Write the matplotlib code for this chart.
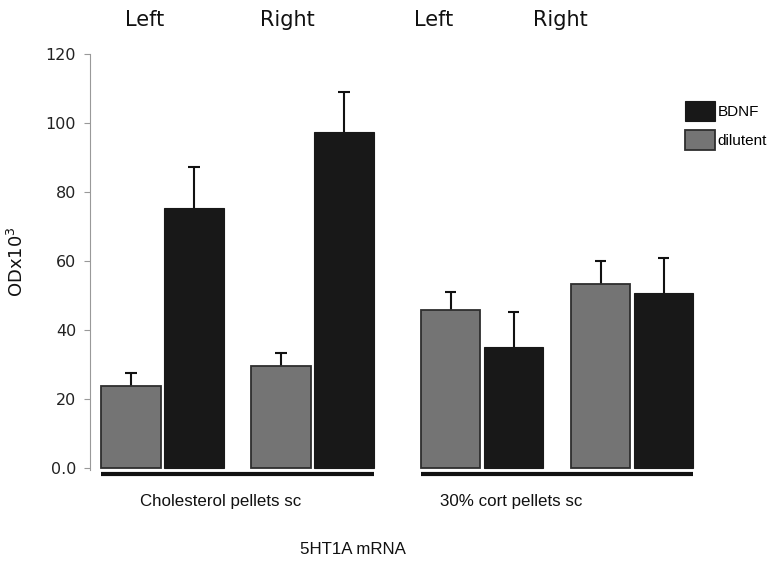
import numpy as np
import matplotlib
matplotlib.use("Agg")
import matplotlib.pyplot as plt

# ---- data ----
sides = ["Left", "Right", "Left", "Right"]
groups = ["Cholesterol pellets sc", "30% cort pellets sc"]
dilutent = [23.8, 29.6, 45.8, 53.4]
dilutent_err = [3.7, 3.7, 5.2, 6.5]
bdnf = [75.4, 97.4, 35.1, 50.8]
bdnf_err = [11.8, 11.5, 10.1, 10.1]
yticks = [0, 20, 40, 60, 80, 100, 120]
yticklabels = ["0.0", "20", "40", "60", "80", "100", "120"]

W, H = 775, 566
fig = plt.figure(figsize=(W / 100, H / 100), dpi=100)

def fx(px):
    return px / W

def fy(py):
    return 1 - py / H

ax_left, ax_right, ax_top, ax_bot = 90, 720, 54, 470
ax = fig.add_axes([fx(ax_left), fy(ax_bot), fx(ax_right - ax_left), (ax_bot - ax_top) / H])

gap = 0.13
pair_x = np.arange(4) + gap * np.array([0, 0, 1, 1])
width = 0.395
off = 0.21
cap_half = 0.038

dil_col = "#747474"
bdnf_col = "#181818"

ax.bar(pair_x - off, dilutent, width=width, color=dil_col, edgecolor="#2e2e2e",
       linewidth=1.3, label="dilutent", zorder=2)
ax.bar(pair_x + off, bdnf, width=width, color=bdnf_col, edgecolor=bdnf_col,
       linewidth=0.8, label="BDNF", zorder=2)

for xs, vals, errs in [(pair_x - off, dilutent, dilutent_err),
                       (pair_x + off, bdnf, bdnf_err)]:
    vals = np.asarray(vals)
    tops = vals + np.asarray(errs)
    ax.vlines(xs, vals, tops, color="#111111", lw=1.5, zorder=1)
    ax.hlines(tops, xs - cap_half, xs + cap_half, color="#111111", lw=1.5, zorder=1)

px_per_unit = 150.0
x0_px = 162.5
ax.set_xlim(-(x0_px - ax_left) / px_per_unit, (ax_right - x0_px) / px_per_unit)
ax.set_ylim(-0.6, 120)

for s in ["top", "right", "bottom"]:
    ax.spines[s].set_visible(False)
ax.spines["left"].set_color("#999999")
ax.spines["left"].set_linewidth(0.8)
ax.set_xticks([])
ax.set_yticks(yticks)
ax.set_yticklabels(yticklabels)
ax.tick_params(axis="y", direction="out", length=4, color="#999999",
               labelsize=11.5, labelcolor="#222222", pad=6)

# group underlines
for g in range(2):
    xs = [pair_x[2 * g] - off - width / 2, pair_x[2 * g + 1] + off + width / 2]
    ax.plot(xs, [-1.9, -1.9], color="#111111", lw=3, clip_on=False,
            solid_capstyle="butt")

# side labels at top
side_dx = [-0.12, -0.165, -0.32, -0.48]
for i, s in enumerate(sides):
    ax.text(pair_x[i] + side_dx[i], 1 - (26 - ax_top) / (ax_bot - ax_top), s,
            transform=ax.get_xaxis_transform(), ha="center", va="baseline",
            fontsize=15, color="#111111", family="DejaVu Sans")

# group labels
fig.text(fx(220.5), fy(506), groups[0], ha="center", va="baseline",
         fontsize=12.2, family="Liberation Sans", color="#111111")
fig.text(fx(511), fy(506), groups[1], ha="center", va="baseline",
         fontsize=12.2, family="Liberation Sans", color="#111111")
fig.text(fx(352.5), fy(554), "5HT1A mRNA", ha="center", va="baseline",
         fontsize=12.2, family="Liberation Sans", color="#111111")

fig.text(fx(17), fy(262), "ODx10$^3$", rotation=90, ha="center", va="center",
         fontsize=13, family="DejaVu Sans", color="#111111")

handles, labels = ax.get_legend_handles_labels()
leg = fig.legend(handles[::-1], labels[::-1], loc="upper left",
                 bbox_to_anchor=(fx(685), fy(101)), frameon=False,
                 prop={"family": "Liberation Sans", "size": 11},
                 handlelength=1.95, handleheight=1.65, labelspacing=0.55,
                 handletextpad=0.2, borderpad=0, borderaxespad=0)

fig.savefig("out.png", dpi=100)
